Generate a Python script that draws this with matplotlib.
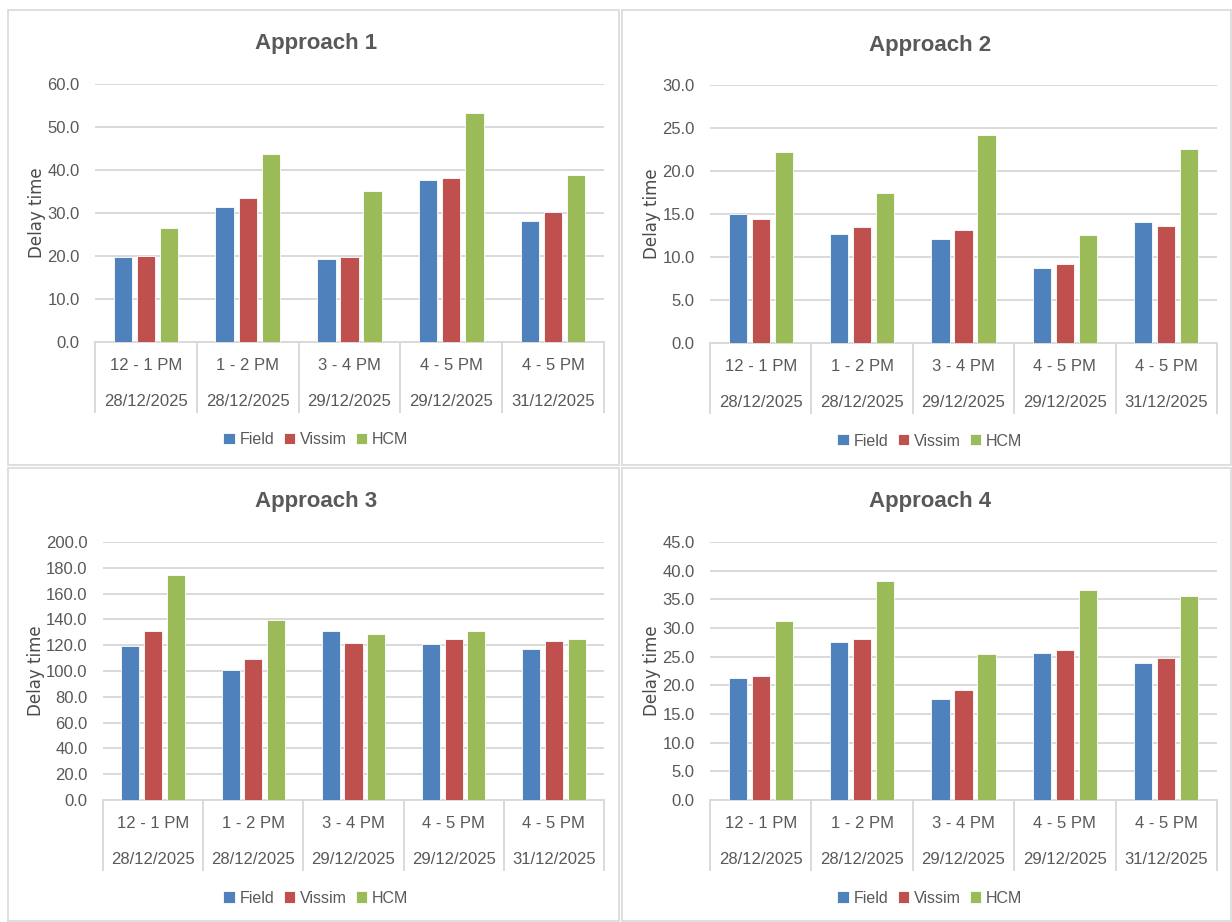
import matplotlib
matplotlib.use("Agg")
import matplotlib.pyplot as plt
import matplotlib.transforms as mtransforms
from matplotlib.patches import Rectangle
import numpy as np

plt.rcParams['font.family'] = ['Liberation Sans', 'DejaVu Sans']

# data
times = ["12 - 1 PM", "1 - 2 PM", "3 - 4 PM", "4 - 5 PM", "4 - 5 PM"]
dates = ["28/12/2025", "28/12/2025", "29/12/2025", "29/12/2025", "31/12/2025"]
series_names = ["Field", "Vissim", "HCM"]

app1_field = [19.8, 31.3, 19.3, 37.7, 28.2]
app1_vissim = [20.0, 33.6, 19.8, 38.1, 30.2]
app1_hcm = [26.6, 43.8, 35.2, 53.3, 38.8]

app2_field = [15.0, 12.7, 12.1, 8.7, 14.1]
app2_vissim = [14.4, 13.5, 13.1, 9.2, 13.6]
app2_hcm = [22.2, 17.4, 24.2, 12.5, 22.5]

app3_field = [119.0, 101.0, 131.0, 121.0, 117.0]
app3_vissim = [131.0, 109.0, 122.0, 125.0, 123.5]
app3_hcm = [174.5, 139.5, 129.0, 131.0, 125.0]

app4_field = [21.3, 27.5, 17.6, 25.6, 23.9]
app4_vissim = [21.7, 28.1, 19.1, 26.1, 24.8]
app4_hcm = [31.2, 38.2, 25.4, 36.6, 35.5]

colors = ["#4F81BD", "#C0504D", "#9BBB59"]
grey_txt = "#595959"
grid_col = "#D9D9D9"

W, H = 1232, 922
fig = plt.figure(figsize=(W / 100, H / 100), dpi=100)

# panel borders (pixel coords)
for (x0, y0, x1, y1) in [(8, 10, 619, 465), (622, 10, 1231, 465),
                         (8, 468, 619, 921), (622, 468, 1231, 921)]:
    fig.patches.append(Rectangle((x0 / W, 1 - y1 / H), (x1 - x0) / W, (y1 - y0) / H,
                                 transform=fig.transFigure, fill=False,
                                 edgecolor=grid_col, linewidth=1.2))

# title, data, ymax, step, axes box (l, t, r, b), panel centre x, title y, legend y
panels = [
    ("Approach 1", [app1_field, app1_vissim, app1_hcm], 60, 10, (95, 84, 604, 342), 316, 43, 440),
    ("Approach 2", [app2_field, app2_vissim, app2_hcm], 30, 5, (710, 85, 1217, 343), 930, 45, 441),
    ("Approach 3", [app3_field, app3_vissim, app3_hcm], 200, 20, (103, 542, 604, 800), 316, 501, 898),
    ("Approach 4", [app4_field, app4_vissim, app4_hcm], 45, 5, (710, 542, 1217, 800), 930, 501, 898),
]

x = np.arange(len(times))
bw = 0.18
step = 0.227

for title, data, ymax, ystep, (l, t, r, b), cx, ty, ly in panels:
    ax = fig.add_axes([l / W, 1 - b / H, (r - l) / W, (b - t) / H])
    ax_h = b - t
    handles = []
    for i, vals in enumerate(data):
        h = ax.bar(x + (i - 1) * step, vals, bw, color=colors[i], edgecolor="white",
                   linewidth=0.6, label=series_names[i], zorder=3)
        handles.append(h)
    ax.set_xlim(-0.5, len(times) - 0.5)
    ax.set_ylim(0, ymax)
    yt = np.arange(0, ymax + ystep / 2, ystep)
    ax.set_yticks(yt)
    ax.set_yticklabels([f"{v:.1f}" for v in yt])
    ax.yaxis.grid(True, color=grid_col, linewidth=1.4, zorder=0)
    ax.set_axisbelow(True)
    for s in ["top", "right", "left"]:
        ax.spines[s].set_visible(False)
    ax.spines["bottom"].set_color(grid_col)
    ax.spines["bottom"].set_linewidth(1.4)
    ax.tick_params(axis="y", length=0, labelsize=12, labelcolor=grey_txt, pad=11)
    ax.set_xticks([])

    # two-level category axis
    trans = mtransforms.blended_transform_factory(ax.transData, ax.transAxes)
    for k in range(len(times) + 1):
        ax.plot([k - 0.5, k - 0.5], [0, -70 / ax_h], transform=trans, color=grid_col,
                linewidth=1.4, clip_on=False)
    for k in range(len(times)):
        ax.text(k, -23 / ax_h, times[k], transform=trans, ha="center", va="center",
                fontsize=12, color=grey_txt)
        ax.text(k, -59 / ax_h, dates[k], transform=trans, ha="center", va="center",
                fontsize=12, color=grey_txt)

    ax.set_ylabel("Delay time", fontsize=12, color="#4a4a4a", family="DejaVu Sans", labelpad=1)
    fig.text(cx / W, 1 - ty / H, title, ha="center", va="center", fontsize=16,
             fontweight="bold", color=grey_txt)
    fig.legend(handles=handles, loc="center", bbox_to_anchor=(cx / W, 1 - ly / H), ncol=3,
               frameon=False, fontsize=11.5, handlelength=0.7, handleheight=0.7,
               handletextpad=0.3, columnspacing=0.6, labelcolor=grey_txt)

fig.savefig("out.png", dpi=100, facecolor="white")
